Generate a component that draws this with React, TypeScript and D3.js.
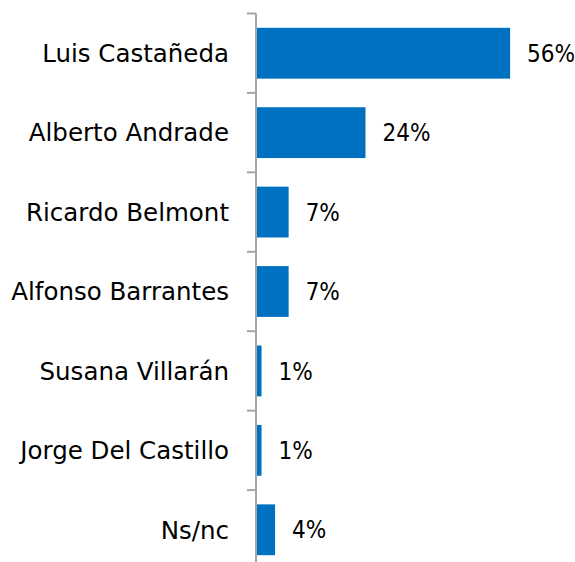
import React, { useEffect, useRef } from "react";
import * as d3 from "d3";

const candidates = [
  "Luis Castañeda",
  "Alberto Andrade",
  "Ricardo Belmont",
  "Alfonso Barrantes",
  "Susana Villarán",
  "Jorge Del Castillo",
  "Ns/nc",
];
const shares = [56, 24, 7, 7, 1, 1, 4];

export default function App() {
  const svgRef = useRef<SVGSVGElement | null>(null);

  useEffect(() => {
    document.body.style.margin = "0";
    const width = 575;
    const height = 562;
    const svg = d3.select(svgRef.current).attr("width", width).attr("height", height);
    svg.selectAll("*").remove();

    // --- scales ---
    const y = d3.scaleBand<string>()
      .domain(candidates)
      .range([13.5, 569.5])
      .paddingInner(0.36)
      .paddingOuter(0.18);
    const x = d3.scaleLinear().domain([0, 100]).range([257, 709]);

    // --- bars ---
    svg.append("g")
      .selectAll("rect")
      .data(candidates)
      .join("rect")
      .attr("x", x(0))
      .attr("y", d => y(d)!)
      .attr("width", (d, i) => x(shares[i]) - x(0))
      .attr("height", y.bandwidth())
      .attr("fill", "#0070C0");

    // --- axis line + ticks at band edges ---
    const step = y.step();
    const edges = d3.range(candidates.length + 1).map(i => 13.5 + i * step);
    svg.append("line")
      .attr("x1", 256).attr("x2", 256)
      .attr("y1", 13.5).attr("y2", height)
      .attr("stroke", "#a6a6a6").attr("stroke-width", 2);
    svg.append("g")
      .selectAll("line")
      .data(edges)
      .join("line")
      .attr("x1", 247).attr("x2", 256)
      .attr("y1", d => d).attr("y2", d => d)
      .attr("stroke", "#a6a6a6").attr("stroke-width", 2);

    // --- category labels ---
    svg.append("g")
      .selectAll("text")
      .data(candidates)
      .join("text")
      .attr("x", 229)
      .attr("y", d => y(d)! + y.bandwidth() / 2)
      .attr("dy", "0.36em")
      .attr("text-anchor", "end")
      .attr("font-family", "'DejaVu Sans', sans-serif")
      .attr("font-size", 24.5)
      .attr("fill", "#000")
      .text(d => d);

    // --- value labels ---
    svg.append("g")
      .selectAll("text")
      .data(candidates)
      .join("text")
      .attr("x", (d, i) => x(shares[i]) + 17)
      .attr("y", d => y(d)! + y.bandwidth() / 2)
      .attr("dy", "0.36em")
      .attr("font-family", "'DejaVu Sans Condensed', 'DejaVu Sans', sans-serif")
      .attr("font-size", 24)
      .attr("fill", "#000")
      .text((d, i) => `${shares[i]}%`);
  }, []);

  return <svg ref={svgRef} style={{ display: "block" }}></svg>;
}
